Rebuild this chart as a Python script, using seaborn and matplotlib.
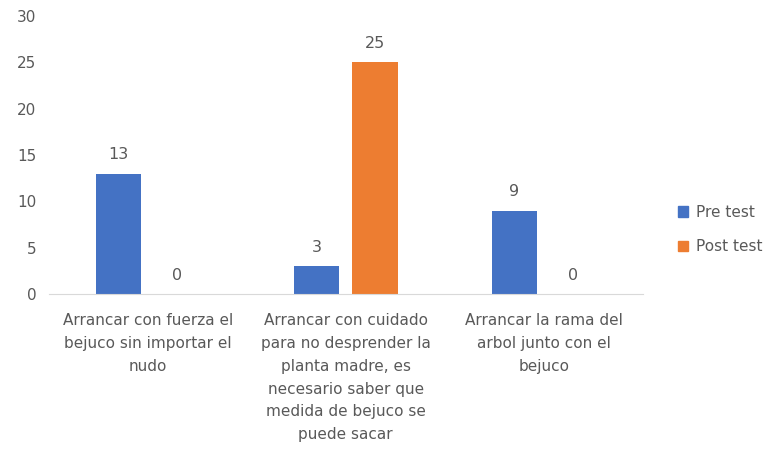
import pandas as pd
import matplotlib.pyplot as plt
import seaborn as sns

categories = [
    "Arrancar con fuerza el\nbejuco sin importar el\nnudo",
    "Arrancar con cuidado\npara no desprender la\nplanta madre, es\nnecesario saber que\nmedida de bejuco se\npuede sacar",
    "Arrancar la rama del\narbol junto con el\nbejuco",
]
series = ["Pre test", "Post test"]
pre_test = [13, 3, 9]
post_test = [0, 25, 0]

df = pd.DataFrame({
    "categoria": categories * 2,
    "grupo": [series[0]] * 3 + [series[1]] * 3,
    "valor": pre_test + post_test,
})

sns.set_style("white")
plt.rcParams['font.family'] = ['DejaVu Sans']
grey = "#595959"
colors = ["#4472C4", "#ED7D31"]

fig = plt.figure(figsize=(7.65, 4.5), dpi=100)
ax = fig.add_axes([0.064, 0.347, 0.776, 0.617])

sns.barplot(data=df, x="categoria", y="valor", hue="grupo",
            palette=colors, width=0.59, gap=0.22, saturation=1,
            linewidth=0, legend=False, ax=ax)

for cont in ax.containers:
    ax.bar_label(cont, padding=8, fontsize=11.5, color=grey)

ax.set_xlim(-0.5, 2.5)
ax.set_ylim(0, 30)
ax.set_yticks(range(0, 31, 5))
ax.set_xlabel("")
ax.set_ylabel("")
ax.tick_params(axis="both", length=0, labelsize=11, colors=grey)
ax.tick_params(axis="x", pad=14)
ax.tick_params(axis="y", pad=9)
for lbl in ax.get_xticklabels():
    lbl.set_linespacing(1.65)
for s in ["top", "right", "left"]:
    ax.spines[s].set_visible(False)
ax.spines["bottom"].set_color("#D9D9D9")

handles = [plt.Rectangle((0, 0), 1, 1, color=c) for c in colors]
fig.legend(handles, series, loc="center left", bbox_to_anchor=(0.886, 0.49),
           frameon=False, fontsize=11, labelcolor=grey, handlelength=0.7,
           handleheight=0.7, handletextpad=0.5, labelspacing=1.3,
           borderaxespad=0, borderpad=0)

fig.savefig("out.png", dpi=100)
